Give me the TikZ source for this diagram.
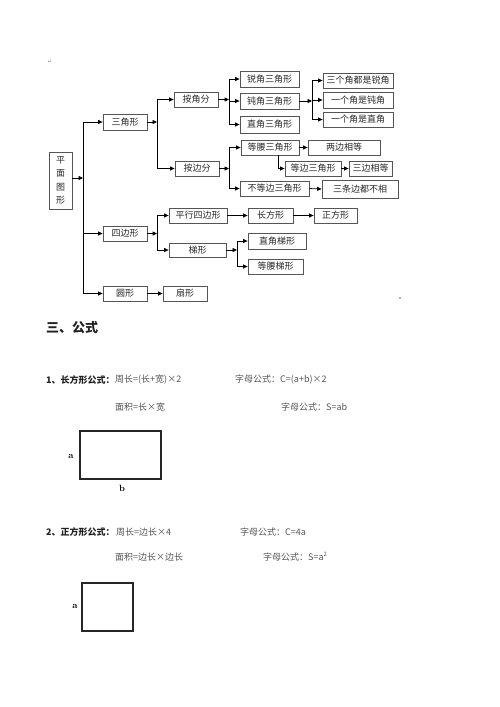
\documentclass[tikz,border=0pt]{standalone}
\usepackage{fontspec}
\newfontfamily\cjk{Noto Sans CJK SC}
\newfontfamily\djv{DejaVu Sans}
\usetikzlibrary{arrows.meta}
\definecolor{boxline}{HTML}{555555}
\definecolor{boxtext}{HTML}{2A2A2A}
\definecolor{formtext}{HTML}{555555}
\definecolor{labtext}{HTML}{222222}
\tikzset{
  bx/.style={draw=boxline, line width=0.8pt, inner sep=0pt, minimum height=15pt,
    text=boxtext, font=\cjk\fontsize{9}{9.5}\selectfont},
  arr/.style={draw=black, line width=0.7pt, -{Triangle[length=4.5pt,width=4pt]}},
  ln/.style={draw=black, line width=0.7pt},
  form/.style={anchor=west, inner sep=0pt, text=formtext, font=\cjk\fontsize{9}{10}\selectfont},
  lab/.style={anchor=west, inner sep=0pt, text=labtext, font=\cjk\bfseries\fontsize{9}{10}\selectfont},
  shape box/.style={draw=black!85, line width=1.1pt},
  side/.style={inner sep=0pt, font=\bfseries\fontsize{9}{10}\selectfont}
}
\begin{document}
\begin{tikzpicture}[x=1pt,y=-1pt]
\useasboundingbox[fill=white] (0,0) rectangle (500,707);
% artifacts
\node[inner sep=0pt, text=black!50, font=\djv\fontsize{5}{5}\selectfont] (ret) at (50,62) {↵};
\fill[black!60] (400,298) circle (0.8);
% boxes
\node[bx, minimum width=23pt, minimum height=57pt, align=center,
  font=\cjk\fontsize{9}{13.5}\selectfont] (pm) at (60.5,180.5) {平\\面\\图\\形};
\node[bx, minimum width=44pt, minimum height=16pt] (sj) at (125,122) {三角形};
\node[bx, minimum width=44pt] (ajf) at (196,99.5) {按角分};
\node[bx, minimum width=44pt] (abf) at (197,168.5) {按边分};
\node[bx, minimum width=59pt, minimum height=16pt] (rj) at (269.5,79) {锐角三角形};
\node[bx, minimum width=59pt, minimum height=16pt] (dj) at (269.5,101) {钝角三角形};
\node[bx, minimum width=59pt, minimum height=17pt] (zj) at (269.5,124.5) {直角三角形};
\node[bx, minimum width=70pt] (r1) at (358,80.5) {三个角都是锐角};
\node[bx, minimum width=70pt, minimum height=16pt] (r2) at (358,100) {一个角是钝角};
\node[bx, minimum width=70pt] (r3) at (358,119.5) {一个角是直角};
\node[bx, minimum width=58pt] (yd) at (270,147.5) {等腰三角形};
\node[bx, minimum width=72pt] (lb) at (344,147.5) {两边相等};
\node[bx, minimum width=56pt] (db) at (313,168.5) {等边三角形};
\node[bx, minimum width=43pt] (sb) at (370.5,168.5) {三边相等};
\node[bx, minimum width=69pt] (bd) at (274.5,188.5) {不等边三角形};
\node[bx, minimum width=76pt, minimum height=18pt] (st) at (360,189) {三条边都不相};
\node[bx, minimum width=44pt] (sbx) at (125,233.5) {四边形};
\node[bx, minimum width=58pt] (px) at (198,215.5) {平行四边形};
\node[bx, minimum width=45pt] (cf) at (270.5,215.5) {长方形};
\node[bx, minimum width=43pt] (zf) at (335.5,215.5) {正方形};
\node[bx, minimum width=57pt, minimum height=14pt] (tx) at (197.5,250) {梯形};
\node[bx, minimum width=58pt, minimum height=16pt] (zt) at (277,241) {直角梯形};
\node[bx, minimum width=55pt] (yt) at (275.5,266.5) {等腰梯形};
\node[bx, minimum width=44pt] (yx) at (125,293.5) {圆形};
\node[bx, minimum width=44pt] (sx) at (185,293.5) {扇形};
% junctions
\coordinate (j0) at (83,178);
\coordinate (j1) at (157,122);
\coordinate (j2) at (229,99.5);
\coordinate (j3) at (312,101);
\coordinate (j4) at (278,155);
\coordinate (j5) at (229,168.5);
\coordinate (j6) at (157,233.5);
\coordinate (j7) at (237,250);
% connectors
\draw[arr] (pm.east |- j0) -- (j0);
\draw[arr] (j0) |- (sj.west);
\draw[arr] (j0) |- (sbx.west);
\draw[arr] (j0) |- (yx.west);
\draw[arr] (sj.east) -- (j1);
\draw[arr] (j1) |- (ajf.west);
\draw[arr] (j1) |- (abf.west);
\draw[arr] (ajf.east) -- (j2);
\draw[arr] (j2) |- (rj.west);
\draw[arr] (j2) |- (dj.west);
\draw[arr] (j2) |- (zj.west);
\draw[arr] (dj.east) -- (j3);
\draw[arr] (j3) |- (r1.west);
\draw[arr] (j3) |- (r2.west);
\draw[arr] (j3) |- (r3.west);
\draw[arr] (abf.east) -- (j5);
\draw[arr] (j5) |- (yd.west);
\draw[arr] (j5) |- (bd.west);
\draw[arr] (yd.east) -- (lb.west);
\draw[arr] (j4) |- (db.west);
\draw[arr] (db.east) -- (sb.west);
\draw[arr] (bd.east) -- (st.west);
\draw[arr] (sbx.east) -- (j6);
\draw[arr] (j6) |- (px.west);
\draw[arr] (j6) |- (tx.west);
\draw[arr] (px.east) -- (cf.west);
\draw[arr] (cf.east) -- (zf.west);
\draw[arr] (tx.east) -- (j7);
\draw[arr] (j7) |- (zt.west);
\draw[arr] (j7) |- (yt.west);
\draw[arr] (yx.east) -- (sx.west);
% formulas
\node[anchor=west, inner sep=0pt, text=labtext, font=\cjk\bfseries\fontsize{13}{14}\selectfont] (h3) at (46,327.5) {三、公式};
\node[lab] (l1) at (46,380) {1、长方形公式：};
\node[form] (f1) at (115,380) {周长=(长+宽)×2};
\node[form] (f2) at (235,380) {字母公式：C=(a+b)×2};
\node[form] (f3) at (115,407) {面积=长×宽};
\node[form] (f4) at (281,407) {字母公式：S=ab};
\draw[shape box] (80,431) rectangle (161,479);
\node[side] (ra) at (71,456) {a};
\node[side] (rb) at (122,488) {b};
\node[lab] (l2) at (46,532) {2、正方形公式：};
\node[form] (g1) at (116,532) {周长=边长×4};
\node[form] (g2) at (240,532) {字母公式：C=4a};
\node[form] (g3) at (115,557) {面积=边长×边长};
\node[form] (g4) at (263,557) {字母公式：S=a\textsuperscript{2}};
\draw[shape box] (82,583) rectangle (133,631);
\node[side] (sa) at (75,606) {a};
\end{tikzpicture}
\end{document}
